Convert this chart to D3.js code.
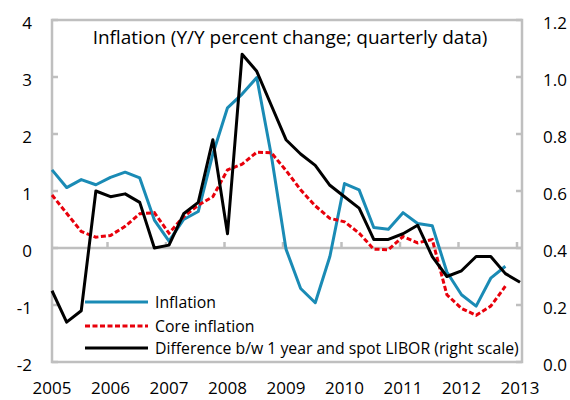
<!DOCTYPE html>
<html><head><meta charset="utf-8">
<script src="https://cdn.jsdelivr.net/npm/d3@7"></script>
<style>body{margin:0;background:#fff}svg{display:block}text{font-family:"Open Sans",Lato,sans-serif;fill:#000}</style>
</head><body>
<svg id="c" width="570" height="400"></svg>
<script>
const quarters = ["2005Q1","2005Q2","2005Q3","2005Q4","2006Q1","2006Q2","2006Q3","2006Q4",
"2007Q1","2007Q2","2007Q3","2007Q4","2008Q1","2008Q2","2008Q3","2008Q4",
"2009Q1","2009Q2","2009Q3","2009Q4","2010Q1","2010Q2","2010Q3","2010Q4",
"2011Q1","2011Q2","2011Q3","2011Q4","2012Q1","2012Q2","2012Q3","2012Q4","2013Q1"];
const inflation = [1.37,1.06,1.20,1.11,1.24,1.33,1.23,0.49,0.12,0.50,0.64,1.65,2.46,2.70,2.99,1.62,
-0.02,-0.71,-0.96,-0.15,1.13,1.02,0.36,0.33,0.62,0.43,0.39,-0.42,-0.82,-1.02,-0.53,-0.32];
const coreInflation = [0.93,0.61,0.29,0.19,0.22,0.38,0.60,0.62,0.26,0.55,0.75,0.90,1.37,1.47,1.68,1.67,
1.36,1.02,0.74,0.52,0.46,0.26,-0.02,-0.03,0.20,0.09,0.15,-0.82,-1.06,-1.18,-1.02,-0.67];
const liborDiff = [0.25,0.14,0.18,0.60,0.58,0.59,0.56,0.40,0.41,0.52,0.56,0.78,0.45,1.08,1.02,0.90,
0.78,0.73,0.69,0.62,0.58,0.54,0.43,0.43,0.45,0.48,0.37,0.30,0.32,0.37,0.37,0.31,0.28];
const yearLabels = ["2005","2006","2007","2008","2009","2010","2011","2012","2013"];
const leftTicks = [-2,-1,0,1,2,3,4];
const rightTicks = [0.0,0.2,0.4,0.6,0.8,1.0,1.2];
const seriesNames = ["Inflation","Core inflation","Difference b/w 1 year and spot LIBOR (right scale)"];
const title = "Inflation (Y/Y percent change; quarterly data)";

const svg = d3.select("#c");
const L=52, R=520, T=20, B=362, RB=522;
const qToNum = q => +q.slice(0,4) + (+q.slice(5)-1)/4;
const x = d3.scaleLinear().domain([2005,2013]).range([L,R]);
const yL = d3.scaleLinear().domain([-2,4]).range([B,T]);
const yR = d3.scaleLinear().domain([0,1.2]).range([B,T]);
const gray="#BFBFBF";

function fitWidth(sel, target){
  const w = sel.node().getComputedTextLength();
  const fs = +sel.attr("font-size");
  sel.attr("font-size", fs*target/w);
}

svg.append("rect").attr("x",L).attr("y",T).attr("width",RB-L).attr("height",B-T)
  .attr("fill","none").attr("stroke",gray).attr("stroke-width",2.5);
svg.append("line").attr("x1",L).attr("x2",RB).attr("y1",yL(0)).attr("y2",yL(0))
  .attr("stroke",gray).attr("stroke-width",2.5);
svg.selectAll(".xt").data(yearLabels.slice(1)).join("line")
  .attr("x1",d=>x(+d)-3).attr("x2",d=>x(+d)-3).attr("y1",yL(0)).attr("y2",yL(0)-6)
  .attr("stroke",gray).attr("stroke-width",2.5);
svg.selectAll(".lt").data(leftTicks).join("line")
  .attr("x1",L).attr("x2",L+6).attr("y1",d=>yL(d)).attr("y2",d=>yL(d))
  .attr("stroke",gray).attr("stroke-width",2.5);
svg.selectAll(".rt").data(rightTicks).join("line")
  .attr("x1",RB-6).attr("x2",RB).attr("y1",d=>yR(d)).attr("y2",d=>yR(d))
  .attr("stroke",gray).attr("stroke-width",2.5);

svg.selectAll(".ll").data(leftTicks).join("text")
  .attr("x",32).attr("y",d=>yL(d)+3).attr("dy","0.35em").attr("text-anchor","end")
  .attr("font-size",17).text(d=>d);
svg.selectAll(".rl").data(rightTicks).join("text")
  .attr("x",543).attr("y",d=>yR(d)+3).attr("dy","0.35em").attr("text-anchor","start")
  .attr("font-size",17).text(d=>d3.format(".1f")(d));
svg.selectAll(".yl").data(yearLabels).join("text")
  .attr("x",d=>x(+d)).attr("y",394).attr("text-anchor","middle")
  .attr("font-size",17).text(d=>d);

const t = svg.append("text").attr("x",290).attr("y",44).attr("text-anchor","middle")
  .attr("font-size",17).text(title);
fitWidth(t, 395);

const lineL = d3.line().x((d,i)=>x(qToNum(quarters[i]))).y(d=>yL(d));
const lineR = d3.line().x((d,i)=>x(qToNum(quarters[i]))).y(d=>yR(d));
const colors = ["#1A8BB5","#E8000B","#000000"];
svg.append("path").attr("d",lineL(inflation)).attr("fill","none").attr("stroke",colors[0]).attr("stroke-width",3).attr("stroke-linejoin","round");
svg.append("path").attr("d",lineL(coreInflation)).attr("fill","none").attr("stroke",colors[1]).attr("stroke-width",3).attr("stroke-dasharray","5,2.5");
svg.append("path").attr("d",lineR(liborDiff)).attr("fill","none").attr("stroke",colors[2]).attr("stroke-width",3).attr("stroke-linejoin","round");

const legY=[302,326,348];
const legTexts=[];
seriesNames.forEach((n,i)=>{
  svg.append("line").attr("x1",85).attr("x2",148).attr("y1",legY[i]).attr("y2",legY[i])
    .attr("stroke",colors[i]).attr("stroke-width",3).attr("stroke-dasharray",i==1?"5,2.5":null);
  legTexts.push(svg.append("text").attr("x",155).attr("y",legY[i]).attr("dy","0.35em").attr("font-size",15).text(n));
});
const lw = legTexts[2].node().getComputedTextLength();
const lfs = 15*364/lw;
legTexts.forEach(s=>s.attr("font-size",lfs));
</script>
</body></html>
